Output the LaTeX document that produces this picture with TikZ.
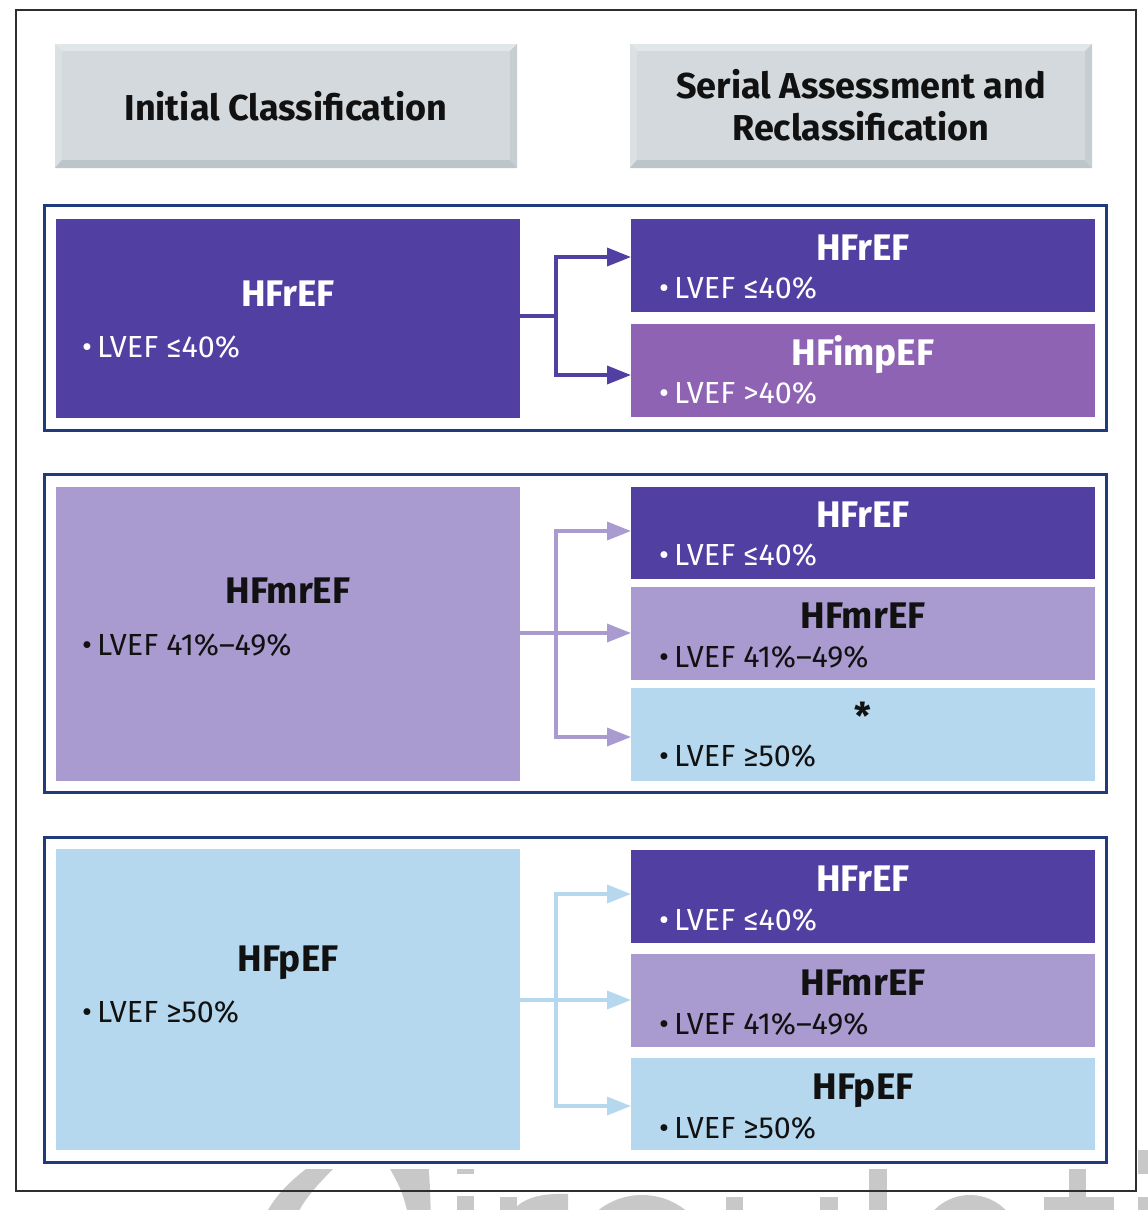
\documentclass[tikz,border=0pt]{standalone}
\usepackage{fontspec}
\setmainfont{Fira Sans}
\usetikzlibrary{arrows.meta}
\definecolor{cRed}{HTML}{513FA1}
\definecolor{cImp}{HTML}{8E63B3}
\definecolor{cMr}{HTML}{A99BD0}
\definecolor{cP}{HTML}{B6D8EF}
\definecolor{navy}{HTML}{1F3B7B}
\definecolor{hdr}{HTML}{D3D9DC}
\definecolor{hdrTop}{HTML}{E1E6E8}
\definecolor{hdrLeft}{HTML}{DBE0E2}
\definecolor{hdrBot}{HTML}{BCC5C9}
\definecolor{hdrRight}{HTML}{C6CED1}
\definecolor{wmgray}{HTML}{C8C8C8}
\definecolor{frm}{HTML}{2E2E2E}
\definecolor{txt}{HTML}{111111}
\begin{document}
\begin{tikzpicture}[x=1pt,y=-1pt,
  box/.style={inner sep=0pt,outer sep=0pt,anchor=north west,draw=none},
  ttl/.style={inner sep=0pt,anchor=base,font=\fontsize{37}{42}\selectfont\bfseries},
  bul/.style={inner sep=0pt,anchor=base west,font=\fontsize{30.5}{35}\selectfont},
  hdtxt/.style={inner sep=0pt,anchor=base,font=\fontsize{36}{42}\selectfont\bfseries,text=txt},
  gframe/.style={inner sep=0pt,outer sep=0pt,anchor=north west,draw=navy,line width=3pt,fill=white},
  con/.style={line width=3.5pt,line cap=rect},
  arr/.style={line width=3.5pt,-{Triangle[length=24pt,width=18pt]}},
  wm/.style={fill=wmgray}]
\useasboundingbox (0,0) rectangle (1148,1210);
\fill[white] (0,0) rectangle (1148,1210);
% watermark (partly visible)
\begin{scope}
\clip (0,0) rectangle (1148,1210);
\fill[wm] (318,1160) .. controls (290,1180) and (272,1198) .. (262,1222) -- (294,1222) .. controls (302,1200) and (318,1184) .. (342,1160) -- cycle;
\fill[wm] (385,1160) -- (428,1160) .. controls (430,1185) .. (431,1222) -- (410,1222) .. controls (402,1190) .. (385,1160) -- cycle;
\fill[wm] (457,1150) rectangle (474,1174);
\fill[wm] (457,1196) rectangle (474,1222);
\fill[wm] (500,1197) rectangle (517,1222);
\fill[wm] (512,1212) .. controls (522,1198) and (540,1193) .. (568,1194) -- (568,1210) .. controls (545,1209) and (530,1214) .. (517,1224) -- cycle;
\fill[wm,even odd rule] (642,1265) circle (70) (642,1265) circle (52);
\fill[wm] (726,1197) rectangle (743,1222);
\fill[wm] (820,1197) rectangle (838,1222);
\fill[wm] (869,1150) rectangle (887,1222);
\fill[wm,even odd rule] (970,1245) ellipse [x radius=50,y radius=50] (970,1245) ellipse [x radius=32,y radius=33];
\fill[wm] (1069,1150) rectangle (1086,1222);
\fill[wm] (1044,1197) rectangle (1114,1212);
\fill[wm] (1138,1150) rectangle (1156,1174);
\fill[wm] (1138,1197) rectangle (1156,1222);
\end{scope}
\fill[white] (0,0) rectangle (1137,1169);
% outer frame
\node[box,draw=frm,line width=2pt,minimum width=1120pt,minimum height=1181pt] (OF) at (16,10) {};
% headers
\foreach \nm/\xx in {H1/55,H2/630}{
  \node[box,fill=hdr,minimum width=462pt,minimum height=124pt] (\nm) at (\xx,44) {};
  \fill[hdrTop] (\nm.north west) -- (\nm.north east) -- ([xshift=-7pt,yshift=-7pt]\nm.north east) -- ([xshift=7pt,yshift=-7pt]\nm.north west) -- cycle;
  \fill[hdrLeft] (\nm.north west) -- ([xshift=7pt,yshift=-7pt]\nm.north west) -- ([xshift=7pt,yshift=8pt]\nm.south west) -- (\nm.south west) -- cycle;
  \fill[hdrBot] (\nm.south west) -- ([xshift=7pt,yshift=8pt]\nm.south west) -- ([xshift=-7pt,yshift=8pt]\nm.south east) -- (\nm.south east) -- cycle;
  \fill[hdrRight] (\nm.north east) -- ([xshift=-7pt,yshift=-7pt]\nm.north east) -- ([xshift=-7pt,yshift=8pt]\nm.south east) -- (\nm.south east) -- cycle;
}
\node[hdtxt] (H1t) at (286,120) {Initial Classification};
\node[hdtxt] (H2t) at (861,98) {Serial Assessment and};
\node[hdtxt] (H2u) at (861,140) {Reclassification};
% group frames
\node[gframe,minimum width=1062pt,minimum height=225pt] (G1) at (44,205) {};
\node[gframe,minimum width=1062pt,minimum height=318pt] (G2) at (44,474) {};
\node[gframe,minimum width=1062pt,minimum height=325pt] (G3) at (44,837) {};
% group 1
\node[box,fill=cRed,minimum width=464pt,minimum height=199pt] (L1) at (56,219) {};
\node[box,fill=cRed,minimum width=464pt,minimum height=93pt] (R11) at (631,219) {};
\node[box,fill=cImp,minimum width=464pt,minimum height=93pt] (R12) at (631,324) {};
\node[ttl,text=white] (L1t) at (288,306) {HFrEF};
\node[bul,text=white] (L1b) at (82,357) {•\,LVEF ≤40\%};
\node[ttl,text=white] (R11t) at (863,260) {HFrEF};
\node[bul,text=white] (R11b) at (659,298) {•\,LVEF ≤40\%};
\node[ttl,text=white] (R12t) at (863,365) {HFimpEF};
\node[bul,text=white] (R12b) at (659,403) {•\,LVEF >40\%};
\coordinate (J1) at (556,316);
\coordinate (J1a) at (556,257);
\coordinate (J1b) at (556,375);
\draw[con,cRed] (L1.east |- J1) -- (J1);
\draw[con,cRed] (J1a) -- (J1b);
\draw[arr,cRed] (J1a) -- (R11.west |- J1a);
\draw[arr,cRed] (J1b) -- (R12.west |- J1b);
% group 2
\node[box,fill=cMr,minimum width=464pt,minimum height=294pt] (L2) at (56,487) {};
\node[box,fill=cRed,minimum width=464pt,minimum height=92pt] (R21) at (631,487) {};
\node[box,fill=cMr,minimum width=464pt,minimum height=93pt] (R22) at (631,587) {};
\node[box,fill=cP,minimum width=464pt,minimum height=93pt] (R23) at (631,688) {};
\node[ttl,text=txt] (L2t) at (288,603) {HFmrEF};
\node[bul,text=txt] (L2b) at (82,655) {•\,LVEF 41\%–49\%};
\node[ttl,text=white] (R21t) at (863,527) {HFrEF};
\node[bul,text=white] (R21b) at (659,565) {•\,LVEF ≤40\%};
\node[ttl,text=txt] (R22t) at (863,628) {HFmrEF};
\node[bul,text=txt] (R22b) at (659,667) {•\,LVEF 41\%–49\%};
\node[ttl,text=txt] (R23t) at (863,729) {*};
\node[bul,text=txt] (R23b) at (659,766) {•\,LVEF ≥50\%};
\coordinate (J2a) at (556,531);
\coordinate (J2b) at (556,737);
\draw[con,cMr] (J2a) -- (J2b);
\draw[arr,cMr] (L2.east |- 0,633) -- (R22.west |- 0,633);
\draw[arr,cMr] (J2a) -- (R21.west |- J2a);
\draw[arr,cMr] (J2b) -- (R23.west |- J2b);
% group 3
\node[box,fill=cP,minimum width=464pt,minimum height=301pt] (L3) at (56,849) {};
\node[box,fill=cRed,minimum width=464pt,minimum height=93pt] (R31) at (631,850) {};
\node[box,fill=cMr,minimum width=464pt,minimum height=93pt] (R32) at (631,954) {};
\node[box,fill=cP,minimum width=464pt,minimum height=92pt] (R33) at (631,1058) {};
\node[ttl,text=txt] (L3t) at (288,971) {HFpEF};
\node[bul,text=txt] (L3b) at (82,1022) {•\,LVEF ≥50\%};
\node[ttl,text=white] (R31t) at (863,891) {HFrEF};
\node[bul,text=white] (R31b) at (659,930) {•\,LVEF ≤40\%};
\node[ttl,text=txt] (R32t) at (863,995) {HFmrEF};
\node[bul,text=txt] (R32b) at (659,1034) {•\,LVEF 41\%–49\%};
\node[ttl,text=txt] (R33t) at (863,1099) {HFpEF};
\node[bul,text=txt] (R33b) at (659,1138) {•\,LVEF ≥50\%};
\coordinate (J3a) at (556,894);
\coordinate (J3b) at (556,1106);
\draw[con,cP] (J3a) -- (J3b);
\draw[arr,cP] (L3.east |- 0,1000) -- (R32.west |- 0,1000);
\draw[arr,cP] (J3a) -- (R31.west |- J3a);
\draw[arr,cP] (J3b) -- (R33.west |- J3b);
\end{tikzpicture}
\end{document}
